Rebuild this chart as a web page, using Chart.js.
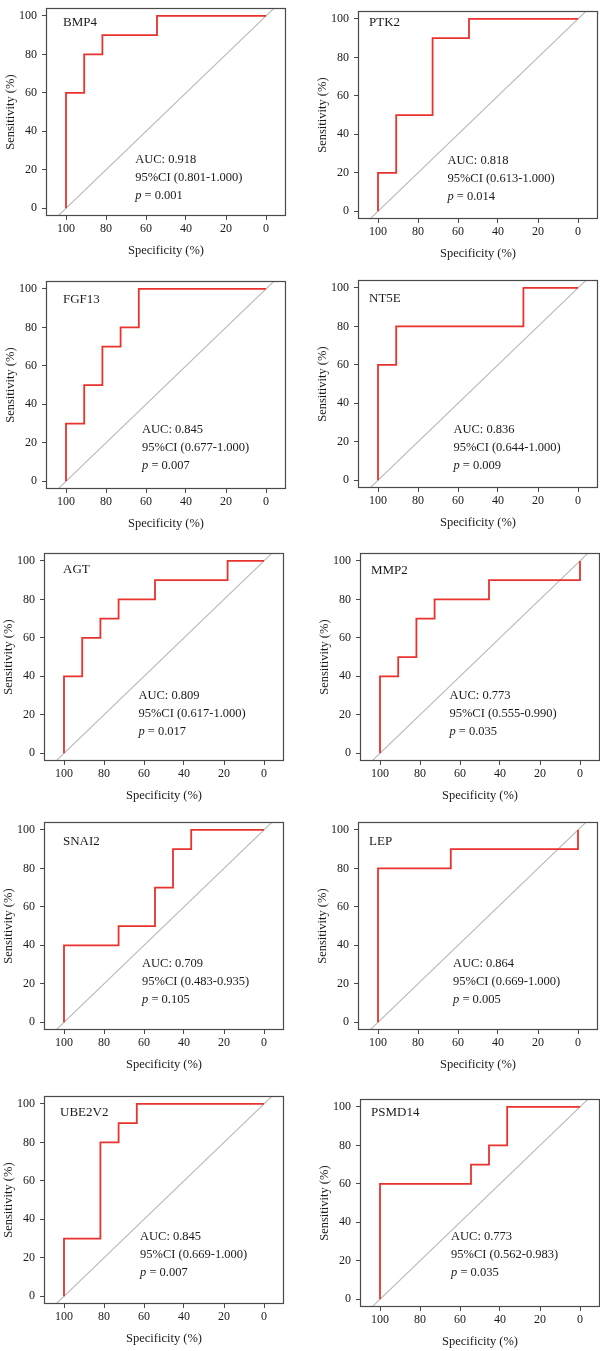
<!DOCTYPE html>
<html>
<head>
<meta charset="utf-8">
<script src="https://cdn.jsdelivr.net/npm/chart.js@4.4.1/dist/chart.umd.min.js"></script>
<style>
  html, body { margin: 0; padding: 0; background: #fff; }
  body { width: 600px; height: 1351px; position: relative; overflow: hidden; }
  canvas { position: absolute; }
</style>
</head>
<body>
<script>
// gene panels, left to right, top to bottom
const genes = ["BMP4", "PTK2", "FGF13", "NT5E", "AGT", "MMP2", "SNAI2", "LEP", "UBE2V2", "PSMD14"];

// ROC vertices: specificity (%) and sensitivity (%)
const specBMP4 = [100, 100, 90.9, 90.9, 81.8, 81.8, 54.5, 54.5, 0];
const sensBMP4 = [0, 60, 60, 80, 80, 90, 90, 100, 100];
const specPTK2 = [100, 100, 90.9, 90.9, 72.7, 72.7, 54.5, 54.5, 0];
const sensPTK2 = [0, 20, 20, 50, 50, 90, 90, 100, 100];
const specFGF13 = [100, 100, 90.9, 90.9, 81.8, 81.8, 72.7, 72.7, 63.6, 63.6, 0];
const sensFGF13 = [0, 30, 30, 50, 50, 70, 70, 80, 80, 100, 100];
const specNT5E = [100, 100, 90.9, 90.9, 27.3, 27.3, 0];
const sensNT5E = [0, 60, 60, 80, 80, 100, 100];
const specAGT = [100, 100, 90.9, 90.9, 81.8, 81.8, 72.7, 72.7, 54.5, 54.5, 18.2, 18.2, 0];
const sensAGT = [0, 40, 40, 60, 60, 70, 70, 80, 80, 90, 90, 100, 100];
const specMMP2 = [100, 100, 90.9, 90.9, 81.8, 81.8, 72.7, 72.7, 45.5, 45.5, 0, 0];
const sensMMP2 = [0, 40, 40, 50, 50, 70, 70, 80, 80, 90, 90, 100];
const specSNAI2 = [100, 100, 72.7, 72.7, 54.5, 54.5, 45.5, 45.5, 36.4, 36.4, 0];
const sensSNAI2 = [0, 40, 40, 50, 50, 70, 70, 90, 90, 100, 100];
const specLEP = [100, 100, 63.6, 63.6, 0, 0];
const sensLEP = [0, 80, 80, 90, 90, 100];
const specUBE2V2 = [100, 100, 81.8, 81.8, 72.7, 72.7, 63.6, 63.6, 0];
const sensUBE2V2 = [0, 30, 30, 80, 80, 90, 90, 100, 100];
const specPSMD14 = [100, 100, 54.5, 54.5, 45.5, 45.5, 36.4, 36.4, 0];
const sensPSMD14 = [0, 60, 60, 70, 70, 80, 80, 100, 100];

const specList = [specBMP4, specPTK2, specFGF13, specNT5E, specAGT, specMMP2, specSNAI2, specLEP, specUBE2V2, specPSMD14];
const sensList = [sensBMP4, sensPTK2, sensFGF13, sensNT5E, sensAGT, sensMMP2, sensSNAI2, sensLEP, sensUBE2V2, sensPSMD14];

const aucValues = ["0.918", "0.818", "0.845", "0.836", "0.809", "0.773", "0.709", "0.864", "0.845", "0.773"];
const ciValues = ["0.801-1.000", "0.613-1.000", "0.677-1.000", "0.644-1.000", "0.617-1.000",
                  "0.555-0.990", "0.483-0.935", "0.669-1.000", "0.669-1.000", "0.562-0.983"];
const pValues = ["0.001", "0.014", "0.007", "0.009", "0.017", "0.035", "0.105", "0.005", "0.007", "0.035"];

// chance line (sens = 100 - spec), clipped by the plot area
const chanceSpec = [110, -10];
const chanceSens = [-10, 110];

const xTicks = [100, 80, 60, 40, 20, 0];
const yTicks = [0, 20, 40, 60, 80, 100];

// layout: plot box corner of each panel (px) and label anchors (data units)
const boxLeft = [46, 358, 46, 358, 44, 360, 44, 358, 44, 360];
const boxTop = [0, 3, 273, 272, 545, 545, 814, 814, 1088, 1091];
const labelX = [101.5, 104.5, 101.5, 104.5, 100.5, 104.5, 100.5, 104.5, 102, 104.5];
const labelY = [96.5, 98, 94.5, 94.5, 95.5, 95, 94, 94, 95.7, 97.3];
const annoX = [65.4, 65.3, 62, 62.3, 62.8, 65.3, 61, 62.5, 62, 64.5];
const annoY = [25, 26.3, 26.8, 26.3, 30, 29.7, 30.3, 30.3, 31, 32.7];

const SERIF = "'Liberation Serif', 'Times New Roman', serif";
const TEXT = "#1a1a1a";
const AXIS_W = 46, PLOT_W = 240, PLOT_H = 216, PAD_TOP = 4, PAD_RIGHT = 2, AXIS_H = 44;

const frameAndText = {
    id: "frameAndText",
    afterDatasetsDraw(chart) {
        const { ctx, chartArea: a, scales: { x, y } } = chart;
        const i = chart.options.plugins.frameAndText.index;
        ctx.save();
        ctx.strokeStyle = "#4a4a4a";
        ctx.lineWidth = 1.2;
        ctx.strokeRect(Math.round(a.left) + 0.5, Math.round(a.top) + 0.5,
                       Math.round(a.width) - 1, Math.round(a.height) - 1);

        ctx.fillStyle = TEXT;
        ctx.textAlign = "left";
        ctx.textBaseline = "middle";
        ctx.font = `13px ${SERIF}`;
        ctx.fillText(genes[i], x.getPixelForValue(labelX[i]), y.getPixelForValue(labelY[i]));

        const ax = x.getPixelForValue(annoX[i]);
        const ay = y.getPixelForValue(annoY[i]);
        ctx.font = `12.5px ${SERIF}`;
        ctx.fillText(`AUC: ${aucValues[i]}`, ax, ay);
        ctx.fillText(`95%CI (${ciValues[i]})`, ax, ay + 18);
        ctx.font = `italic 12.5px ${SERIF}`;
        ctx.fillText("p", ax, ay + 36);
        const pw = ctx.measureText("p").width;
        ctx.font = `12.5px ${SERIF}`;
        ctx.fillText(` = ${pValues[i]}`, ax + pw, ay + 36);
        ctx.restore();
    }
};

function makePanel(i) {
    const canvas = document.createElement("canvas");
    const w = AXIS_W + PLOT_W + PAD_RIGHT;
    const h = PAD_TOP + PLOT_H + AXIS_H;
    canvas.width = w;
    canvas.height = h;
    canvas.style.width = w + "px";
    canvas.style.height = h + "px";
    canvas.style.left = (boxLeft[i] - AXIS_W) + "px";
    canvas.style.top = (boxTop[i] - PAD_TOP) + "px";
    document.body.appendChild(canvas);

    const roc = specList[i].map((s, k) => ({ x: s, y: sensList[i][k] }));
    const chance = chanceSpec.map((s, k) => ({ x: s, y: chanceSens[k] }));

    const tickFont = { family: SERIF, size: 12 };
    const titleFont = { family: SERIF, size: 12.5 };

    new Chart(canvas.getContext("2d"), {
        type: "line",
        data: {
            datasets: [
                { data: roc, borderColor: "#e8322c", borderWidth: 1.8, pointRadius: 0, tension: 0, clip: 2 },
                { data: chance, borderColor: "#b8b8b8", borderWidth: 1.1, pointRadius: 0, tension: 0, clip: 0 },
            ],
        },
        options: {
            responsive: false,
            animation: false,
            events: [],
            layout: { padding: { top: PAD_TOP, right: PAD_RIGHT, left: 0, bottom: 0 } },
            plugins: {
                legend: { display: false },
                tooltip: { enabled: false },
                frameAndText: { index: i },
            },
            scales: {
                x: {
                    type: "linear",
                    reverse: true,
                    min: -10,
                    max: 110,
                    afterBuildTicks: (s) => { s.ticks = xTicks.map((v) => ({ value: v })); },
                    afterFit: (s) => { s.height = AXIS_H; },
                    border: { display: false },
                    grid: { drawOnChartArea: false, drawTicks: true, tickLength: 4, color: "#4a4a4a" },
                    ticks: { font: tickFont, color: TEXT, padding: 2, maxRotation: 0, autoSkip: false },
                    title: { display: true, text: "Specificity (%)", font: titleFont, color: TEXT, padding: { top: 0, bottom: 2 } },
                },
                y: {
                    type: "linear",
                    min: -4,
                    max: 104,
                    afterBuildTicks: (s) => { s.ticks = yTicks.map((v) => ({ value: v })); },
                    afterFit: (s) => { s.width = AXIS_W; },
                    border: { display: false },
                    grid: { drawOnChartArea: false, drawTicks: true, tickLength: 4, color: "#4a4a4a" },
                    ticks: { font: tickFont, color: TEXT, padding: 5, autoSkip: false },
                    title: { display: true, text: "Sensitivity (%)", font: titleFont, color: TEXT, padding: { top: 3, bottom: 0 } },
                },
            },
        },
        plugins: [frameAndText],
    });
}

genes.forEach((g, i) => makePanel(i));
</script>
</body>
</html>
